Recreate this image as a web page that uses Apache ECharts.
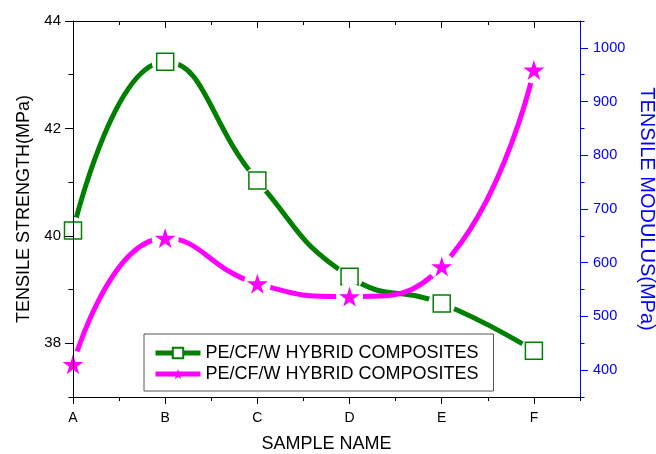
<!DOCTYPE html>
<html>
<head>
<meta charset="utf-8">
<script src="https://cdn.jsdelivr.net/npm/echarts@6/dist/echarts.min.js"></script>
<style>
  html, body { margin: 0; padding: 0; background: #fff; }
  #chart { width: 656px; height: 454px; }
</style>
</head>
<body>
<div id="chart"></div>
<script>
// data
var categories = ["A", "B", "C", "D", "E", "F"];
var strength = [40.10, 43.24, 41.03, 39.24, 38.74, 37.86];
var modulus = [411, 646, 561, 537, 593, 959];
var strengthTicks = [38, 40, 42, 44];
var modulusTicks = [400, 500, 600, 700, 800, 900, 1000];
var categoryTicks = [0, 1, 2, 3, 4, 5];

var GREEN = "#008000";
var MAGENTA = "#ff00ff";
var BLUE = "#0000ff";
var FONT = "Liberation Sans, Arial, sans-serif";
var NAME1 = "PE/CF/W HYBRID COMPOSITES";
var NAME2 = "PE/CF/W HYBRID COMPOSITES ";
var STAR = "path://M50,0 L61,35 L98,35 L68,57 L79,91 L50,70 L21,91 L32,57 L2,35 L39,35 Z";

function toPoints(values) {
  return values.map(function (v, i) { return [i, v]; });
}

var chart = echarts.init(document.getElementById("chart"));

// minor ticks on the main axis, longer major ticks on an overlay axis
function xAxis(position, major, inside) {
  return {
    type: "value", position: position, min: 0, max: 5.5, interval: 0.5, z: 10,
    axisLine: { show: !major, onZero: false, lineStyle: { color: "#000", width: 1 } },
    axisTick: major
      ? { show: true, inside: inside, length: 7, customValues: categoryTicks, lineStyle: { color: "#000" } }
      : { show: true, inside: inside, length: 4, lineStyle: { color: "#000" } },
    axisLabel: { show: false },
    splitLine: { show: false }
  };
}

function yAxis(position, min, max, interval, color, major, ticks) {
  return {
    type: "value", position: position, min: min, max: max, interval: interval, z: 10,
    axisLine: { show: !major, onZero: false, lineStyle: { color: color, width: 1 } },
    axisTick: major
      ? { show: true, length: 8, customValues: ticks, lineStyle: { color: color } }
      : { show: true, length: 4.5, lineStyle: { color: color } },
    axisLabel: { show: false },
    splitLine: { show: false }
  };
}

var xBottom = xAxis("bottom", false, false);
xBottom.name = "SAMPLE NAME";
xBottom.nameLocation = "middle";
xBottom.nameGap = 38;
xBottom.nameTextStyle = { fontFamily: FONT, fontSize: 18, color: "#000" };
xBottom.axisLabel = {
  show: true, customValues: categoryTicks, margin: 14,
  fontFamily: FONT, fontSize: 14, color: "#000",
  formatter: function (v) { return categories[Math.round(v)]; }
};

var yLeft = yAxis("left", 37, 44, 1, "#000", false);
yLeft.name = "TENSILE STRENGTH(MPa)";
yLeft.nameLocation = "middle";
yLeft.nameGap = 40;
yLeft.nameTextStyle = { fontFamily: FONT, fontSize: 18, color: "#000" };
yLeft.axisLabel = { show: true, customValues: strengthTicks, margin: 12, fontFamily: FONT, fontSize: 15, color: "#000" };

var yRight = yAxis("right", 350, 1050, 50, BLUE, false);
yRight.name = "TENSILE MODULUS(MPa)";
yRight.nameLocation = "middle";
yRight.nameRotate = -90;
yRight.nameGap = 49;
yRight.nameTextStyle = { fontFamily: FONT, fontSize: 20, color: BLUE };
yRight.axisLabel = {
  show: true, customValues: modulusTicks, margin: 13, fontFamily: FONT, fontSize: 14.5, color: BLUE,
  formatter: function (v) { return String(v); }
};

// plain curve, then white discs to open a gap around each point, then the markers
function curve(values, color, axis, z) {
  return {
    name: "curve" + z, type: "line", smooth: true, silent: true, yAxisIndex: axis, z: z,
    data: toPoints(values), showSymbol: false, symbol: "none",
    lineStyle: { color: color, width: 5 }
  };
}
function halo(values, axis, z) {
  return {
    name: "halo" + z, type: "scatter", silent: true, yAxisIndex: axis, z: z,
    data: toPoints(values), symbol: "circle", symbolSize: 27,
    itemStyle: { color: "#fff", opacity: 1 }
  };
}
function markers(name, values, axis, z, symbol, size, itemStyle) {
  return {
    name: name, type: "line", smooth: true, yAxisIndex: axis, z: z,
    data: toPoints(values),
    lineStyle: { color: "rgba(0,0,0,0)", width: 0 },
    symbol: symbol, symbolSize: size, itemStyle: itemStyle
  };
}

chart.setOption({
  animation: false,
  grid: { left: 73, right: 76, top: 21, bottom: 57, outerBoundsMode: "none", containLabel: false },
  legend: {
    orient: "vertical", left: 144, top: 334, selectedMode: false,
    itemWidth: 45, itemHeight: 13, itemGap: 3,
    padding: [10, 10, 8, 9],
    borderColor: "#555", borderWidth: 1,
    textStyle: { fontFamily: FONT, fontSize: 18, lineHeight: 18, color: "#000" },
    data: [
      { name: NAME1, lineStyle: { color: GREEN, width: 5, opacity: 1 } },
      { name: NAME2, lineStyle: { color: MAGENTA, width: 5, opacity: 1 } }
    ]
  },
  xAxis: [xBottom, xAxis("bottom", true, false), xAxis("top", false, true), xAxis("top", true, true)],
  yAxis: [yLeft, yRight, yAxis("left", 37, 44, 1, "#000", true, strengthTicks), yAxis("right", 350, 1050, 50, BLUE, true, modulusTicks)],
  series: [
    curve(strength, GREEN, 0, 2),
    halo(strength, 0, 3),
    markers(NAME1, strength, 0, 4, "rect", 17, { color: "#fff", borderColor: GREEN, borderWidth: 1.5 }),
    curve(modulus, MAGENTA, 1, 5),
    halo(modulus, 1, 6),
    markers(NAME2, modulus, 1, 7, STAR, [21, 20], { color: MAGENTA })
  ]
});
</script>
</body>
</html>
